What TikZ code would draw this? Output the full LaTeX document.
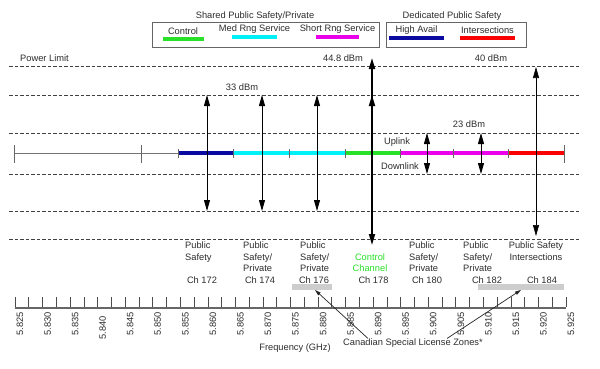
\documentclass[tikz,border=0pt]{standalone}
\usepackage{fontspec}
\setmainfont{Liberation Sans}
\usetikzlibrary{arrows.meta}
\definecolor{ctrlgreen}{RGB}{40,225,40}
\definecolor{medcyan}{RGB}{0,240,250}
\definecolor{shortmag}{RGB}{235,0,235}
\definecolor{availblue}{RGB}{10,10,160}
\definecolor{isecred}{RGB}{250,0,0}
\definecolor{zonegray}{RGB}{205,205,205}
\definecolor{txtgray}{RGB}{45,45,45}
\tikzset{
  lbl/.style={font=\fontsize{9.3}{11.5}\selectfont, text=txtgray, inner sep=0},
  chtext/.style={lbl, anchor=north west, align=left},
  level/.style={black!75, dash pattern=on 3.5pt off 2pt, line width=0.7pt},
  pwr/.style={line width=0.9pt, {Triangle[length=11pt,width=6pt]}-{Triangle[length=11pt,width=6pt]}},
  band/.style={line width=4.5pt},
  legbox/.style={draw=black!60, line width=0.8pt},
  zone/.style={fill=zonegray, inner sep=0, minimum height=5.5pt},
  zarrow/.style={black!85, line width=0.7pt, -{Triangle[length=6pt,width=3.5pt]}},
}
\begin{document}
\begin{tikzpicture}[x=1pt,y=-1pt]
\useasboundingbox[fill=white] (0,0) rectangle (600,368);

% legend
\node[lbl] (shared) at (255,16) {Shared Public Safety/Private};
\node[lbl] (dedicated) at (452,16) {Dedicated Public Safety};
\draw[legbox] (152,22) rectangle (379,47);
\draw[legbox] (386,22) rectangle (526,47);
\foreach \x/\y/\w/\c/\t in {183/31/41/ctrlgreen/Control, 254.5/29/45/medcyan/Med Rng Service, 337.5/29/43/shortmag/Short Rng Service, 416.5/30/55/availblue/High Avail, 487.5/30/55/isecred/Intersections}{
 \node[lbl] (leg\c) at (\x,\y) {\t};
 \draw[\c, line width=4pt] ({\x-\w/2},{\y+8}) --++(\w,0);
}

% power levels
\foreach \y in {66,95,133,174,211,239}
 \draw[level] (9,\y) -- (579,\y);
\node[lbl, anchor=west] (plimit) at (20,58) {Power Limit};
\node[lbl] (p33) at (242,87) {33 dBm};
\node[lbl] (p448) at (343,58) {44.8 dBm};
\node[lbl] (p40) at (491,58) {40 dBm};
\node[lbl] (p23) at (469,124) {23 dBm};
\node[lbl] (uplink) at (397,142) {Uplink};
\node[lbl] (downlink) at (400,166) {Downlink};

% band plan
\draw[black!55, line width=0.8pt] (14,153) -- (178,153);
\draw[availblue, band] (178,153) -- (233,153);
\draw[medcyan, band] (233,153) -- (345,153);
\draw[ctrlgreen, band] (345,153) -- (400,153);
\draw[shortmag, band] (400,153) -- (508,153);
\draw[isecred, band] (508,153) -- (564,153);
\foreach \x in {14,141,564}
 \draw[black!60, line width=0.8pt] (\x,145) --++(0,18);
\foreach \x in {178,233,289,345,400,453,508}
 \draw[black!60, line width=0.8pt] (\x,149) --++(0,9);

% power arrows
\foreach \x/\ch in {207/172,262/174,317/176}{
 \coordinate (u\ch) at (\x,95);
 \coordinate (d\ch) at (\x,211);
 \draw[pwr] (u\ch) -- (d\ch);
}
\foreach \x/\ch in {427/180,481/182}{
 \coordinate (u\ch) at (\x,133);
 \coordinate (d\ch) at (\x,174);
 \draw[pwr] (u\ch) -- (d\ch);
}
\coordinate (u178) at (372,58);
\coordinate (m178) at (372,95);
\coordinate (d178) at (372,245);
\draw[pwr, line width=1.8pt] (u178) -- (d178);
\draw[line width=1.8pt, -{Triangle[length=11pt,width=6pt]}] (372,125) -- (m178);
\coordinate (u184) at (536,67);
\coordinate (d184) at (536,236);
\draw[pwr, line width=0.6pt] (u184) -- (d184);

% channels
\node[chtext] (t172) at (185,242) {Public\\Safety};
\node[chtext] (t174) at (243,242) {Public\\Safety/\\Private};
\node[chtext] (t176) at (300,242) {Public\\Safety/\\Private};
\node[lbl, anchor=north, align=center, text=ctrlgreen] (t178) at (370,253.5) {Control\\Channel};
\node[chtext] (t180) at (409,242) {Public\\Safety/\\Private};
\node[chtext] (t182) at (463,242) {Public\\Safety/\\Private};
\node[lbl, anchor=north, align=center] (t184) at (536,242) {Public Safety\\Intersections};
\foreach \x/\ch in {202/172,260/174,314/176,373.5/178,427/180,487/182,542/184}
 \node[lbl, anchor=base] (c\ch) at (\x,283.5) {Ch \ch};
\node[zone, minimum width=40pt] (z176) at (312,287) {};
\node[zone, minimum width=86pt] (z184) at (521,287) {};

% frequency axis
\draw[black!60, line width=1.2pt] (15,308) -- (566,308);
\foreach \k in {0,...,40}
 \draw[black!70, line width=0.7pt] ({15+13.775*\k},297) --++(0,10);
\foreach \f/\dy [count=\i from 0] in {5.825/0,5.830/0,5.835/0,5.840/4,5.845/0,5.850/0,5.855/0,5.860/0,5.865/0,5.870/0,5.875/0,5.880/0,5.885/0,5.890/0,5.895/0,5.900/0,5.905/0,5.910/0,5.915/0,5.920/0,5.925/0}
 \node[lbl, rotate=90, anchor=east] (f\i) at ({20+27.55*\i},{312+\dy}) {\f};
\node[lbl] (freq) at (295,348) {Frequency (GHz)};
\node[lbl] (czones) at (413,343) {Canadian Special License Zones*};
\draw[zarrow] ([xshift=-45pt]czones.north) -- ([xshift=3pt]z176.south);
\draw[zarrow] ([xshift=34pt]czones.north) -- (z184.south);
\end{tikzpicture}
\end{document}
